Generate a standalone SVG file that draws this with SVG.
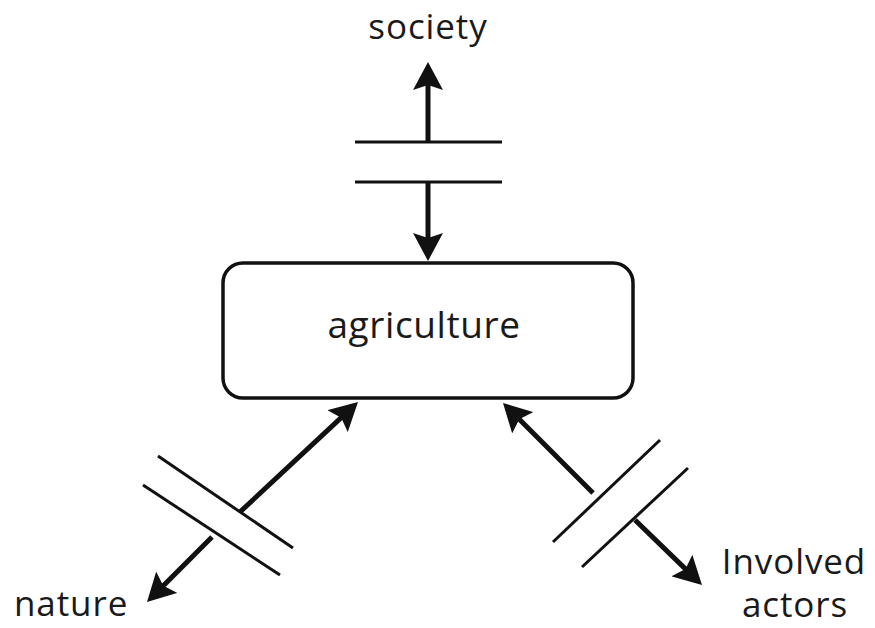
<svg xmlns="http://www.w3.org/2000/svg" width="875" height="628" viewBox="0 0 875 628">
<style>
.lbl{font-family:"Open Sans","Noto Sans","Liberation Sans",sans-serif;font-size:37px;letter-spacing:0.6px;fill:#1a1a1a}
.edge{font-size:35px;letter-spacing:0.9px}
.box{fill:#fff;stroke:#111;stroke-width:3.5}
.arr{stroke:#111;stroke-width:5;fill:none;marker-end:url(#ah)}
.bar{stroke:#111;stroke-width:3;fill:none}
</style>
<defs>
<marker id="ah" markerUnits="userSpaceOnUse" markerWidth="28" markerHeight="30" viewBox="0 0 28 30" refX="12" refY="15" orient="auto">
<path d="M0,0 L28,15 L0,30 L5,15 z" fill="#111"/>
</marker>
</defs>
<rect width="875" height="628" fill="#fff"/>
<g id="agriculture">
<rect class="box" x="223" y="263" width="410" height="135" rx="20" ry="20"/>
<text class="lbl" x="424" y="338" text-anchor="middle">agriculture</text>
</g>
<g id="society">
<text class="lbl edge" x="428" y="39" text-anchor="middle">society</text>
</g>
<g id="nature">
<text class="lbl edge" x="14" y="616">nature</text>
</g>
<g id="actors">
<text class="lbl edge" x="794" y="574" text-anchor="middle">Involved</text>
<text class="lbl edge" x="795" y="617" text-anchor="middle">actors</text>
</g>
<g id="connectors">
<line class="arr" x1="428" y1="142" x2="428" y2="78"/>
<line class="arr" x1="428" y1="182" x2="428" y2="245"/>
<line class="bar" x1="355" y1="142" x2="502" y2="142"/>
<line class="bar" x1="355" y1="182" x2="502" y2="182"/>
<line class="arr" x1="240" y1="512" x2="346.3" y2="412.9"/>
<line class="arr" x1="212" y1="537" x2="158.3" y2="590.7"/>
<line class="bar" x1="158" y1="456" x2="293" y2="548"/>
<line class="bar" x1="143" y1="485" x2="280" y2="575"/>
<line class="arr" x1="593" y1="493" x2="514.3" y2="414.3"/>
<line class="arr" x1="635" y1="520" x2="690.5" y2="573.9"/>
<line class="bar" x1="660" y1="440" x2="553" y2="542"/>
<line class="bar" x1="688" y1="468" x2="582" y2="567"/>
</g>
</svg>
